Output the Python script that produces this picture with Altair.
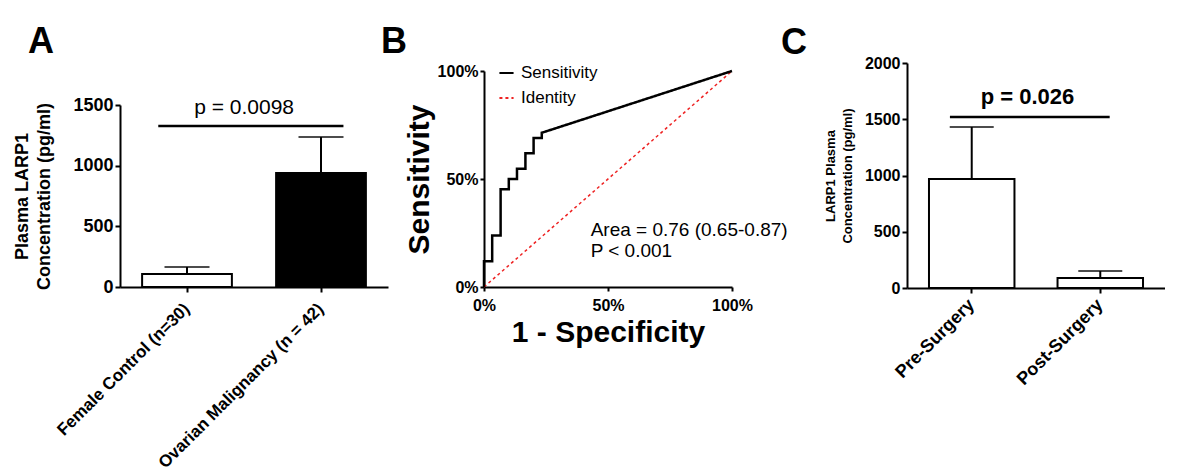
import altair as alt
import pandas as pd

FONT = "Liberation Sans"

# ---------------- Panel A data ----------------
a_groups = ["Female Control (n=30)", "Ovarian Malignancy (n = 42)"]
a_means = [107, 940]
a_upper = [165, 1236]
a_fills = ["white", "black"]
a_ticks = [0, 500, 1000, 1500]
a_bracket = 1327
a_p_label = "p = 0.0098"
a_p_y = 1475

# ---------------- Panel B data ----------------
roc_fpr = [0, 0, 3.3, 3.3, 6.7, 6.7, 10, 10, 13.3, 13.3, 16.7, 16.7, 20, 20, 23.3, 23.3, 100]
roc_tpr = [0, 11.9, 11.9, 23.8, 23.8, 45.2, 45.2, 50, 50, 54.8, 54.8, 61.9, 61.9, 69, 69, 71.4, 100]
identity_fpr = [0, 100]
identity_tpr = [0, 100]
b_ticks = [0, 50, 100]
b_series = ["Sensitivity", "Identity"]
b_colors = ["black", "#ee2222"]
b_notes = ["Area = 0.76 (0.65-0.87)", "P < 0.001"]
b_note_x = [43, 43]
b_note_y = [26.4, 16.7]

# ---------------- Panel C data ----------------
c_groups = ["Pre-Surgery", "Post-Surgery"]
c_means = [969, 89]
c_upper = [1431, 151]
c_fills = ["white", "white"]
c_ticks = [0, 500, 1000, 1500, 2000]
c_bracket = 1520
c_p_label = "p = 0.026"
c_p_y = 1698


def panel_title(letter, dx, offset):
    return alt.TitleParams(letter, anchor="start", frame="group", dx=dx, offset=offset,
                           fontSize=36, font=FONT, fontWeight="bold", color="black")


def bar_panel(groups, means, upper, fills, ticks, ymax, yrange, ytitle, title_size, title_lh,
              title_pad, label_size, xlabel_size, xlabel_pad, p_label, p_y, p_size, p_weight,
              bracket, br_start, br_end, p_dx, pad_in, pad_out, cap, width, height, title):
    df = pd.DataFrame({"group": groups, "mean": means, "upper": upper, "fill": fills})
    br = pd.DataFrame({"start": [groups[0]], "end": [groups[1]], "y": [bracket],
                       "py": [p_y], "label": [p_label]})
    xscale = alt.Scale(domain=groups, paddingInner=pad_in, paddingOuter=pad_out)
    xaxis = alt.Axis(title=None, labelAngle=-45, labelAlign="right", labelBaseline="middle",
                     labelFontSize=xlabel_size, tickSize=5, labelPadding=xlabel_pad,
                     labelLimit=0)
    yaxis = alt.Axis(values=ticks, format="d", title=ytitle, titleFontSize=title_size,
                     titleLineHeight=title_lh, labelFontSize=label_size, tickSize=5,
                     labelPadding=2, titlePadding=title_pad, labelFlush=False)
    if yrange is None:
        yscale = alt.Scale(domain=[0, ymax], nice=False)
    else:
        yscale = alt.Scale(domain=[0, ymax], nice=False, range=yrange)
    bars = alt.Chart(df).mark_bar(stroke="black", strokeWidth=2).encode(
        x=alt.X("group:N", scale=xscale, axis=xaxis),
        y=alt.Y("mean:Q", scale=yscale, axis=yaxis),
        fill=alt.Fill("fill:N", scale=None),
    )
    err = alt.Chart(df).mark_rule(color="black", strokeWidth=2).encode(
        x=alt.X("group:N"), y=alt.Y("mean:Q"), y2=alt.Y2("upper"))
    caps = alt.Chart(df).mark_tick(color="black", size=cap, thickness=2).encode(
        x=alt.X("group:N"), y=alt.Y("upper:Q"))
    brk = alt.Chart(br).mark_rule(color="black", strokeWidth=2.5).encode(
        x=alt.X("start:N", bandPosition=br_start),
        x2=alt.X2("end", bandPosition=br_end),
        y=alt.Y("y:Q"))
    ptxt = alt.Chart(br).mark_text(font=FONT, fontSize=p_size, fontWeight=p_weight,
                                   color="black", align="center", baseline="middle",
                                   dx=p_dx).encode(
        x=alt.X("end:N", bandPosition=0), y=alt.Y("py:Q"), text="label:N")
    return alt.layer(bars, err, caps, brk, ptxt).properties(width=width, height=height, title=title)


chartA = bar_panel(a_groups, a_means, a_upper, a_fills, a_ticks, 1500, [224, 42],
                   ["Plasma LARP1", "Concentration (pg/ml)"], 18, 22, 19, 18, 17, 14,
                   a_p_label, a_p_y, 21, "normal", a_bracket, 0.18, 0.75, -32,
                   0.33, 0.165, 45, 268, 224, panel_title("A", -92, 2))

chartC = bar_panel(c_groups, c_means, c_upper, c_fills, c_ticks, 2000, None,
                   ["LARP1 Plasma", "Concentration (pg/ml)"], 13, 17, 10, 16, 18, 9,
                   c_p_label, c_p_y, 22, "bold", c_bracket, 0.245, 0.61, -30,
                   0.335, 0.171, 44, 258, 225, panel_title("C", -126, -7))

# ---------------- Panel B ----------------
roc_df = pd.DataFrame({"fpr": roc_fpr, "tpr": roc_tpr, "series": "Sensitivity",
                       "order": list(range(len(roc_fpr)))})
id_df = pd.DataFrame({"fpr": identity_fpr, "tpr": identity_tpr, "series": "Identity",
                      "order": [0, 1]})
notes_df = pd.DataFrame({"x": b_note_x, "y": b_note_y, "text": b_notes})

legend = alt.Legend(title=None, orient="none", legendX=378, legendY=1.5, symbolType="stroke",
                    symbolSize=200, symbolStrokeWidth=2, labelFontSize=17, labelFont=FONT,
                    labelFontWeight="normal", labelColor="black", rowPadding=7,
                    labelOffset=6, padding=0)
color = alt.Color("series:N", scale=alt.Scale(domain=b_series, range=b_colors), legend=legend)
dash = alt.StrokeDash("series:N", scale=alt.Scale(domain=b_series, range=[[1, 0], [3, 3]]),
                      legend=legend)
bx = alt.X("fpr:Q", scale=alt.Scale(domain=[0, 100], nice=False),
           axis=alt.Axis(values=b_ticks, labelExpr="datum.value + '%'", title="1 - Specificity",
                         titleFontSize=30, labelFontSize=16, tickSize=4, titlePadding=4,
                         labelPadding=6, labelFlush=False))
by = alt.Y("tpr:Q", scale=alt.Scale(domain=[0, 100], nice=False, range=[224, 8]),
           axis=alt.Axis(values=b_ticks, labelExpr="datum.value + '%'", title="Sensitivity",
                         titleFontSize=30, labelFontSize=16, tickSize=4, titlePadding=3,
                         labelPadding=2, labelFlush=False))
roc = alt.Chart(roc_df).mark_line(strokeWidth=2.5).encode(
    x=bx, y=by, color=color, strokeDash=dash, order="order:Q")
ident = alt.Chart(id_df).mark_line(strokeWidth=1.5).encode(
    x="fpr:Q", y="tpr:Q", color=color, strokeDash=dash, order="order:Q")
notes = alt.Chart(notes_df).mark_text(font=FONT, fontSize=19, color="black", align="left",
                                      baseline="middle").encode(
    x="x:Q", y="y:Q", text="text:N")
chartB = alt.layer(ident, roc, notes).properties(width=248, height=224,
                                                 title=panel_title("B", -103, 2))

chart = alt.hconcat(chartA, chartB, chartC, spacing=-7).properties(
    padding={"left": 5, "top": 16, "right": 0, "bottom": 0}
).configure_view(stroke=None).configure_axis(
    domainColor="black", domainWidth=2, tickColor="black", tickWidth=2,
    labelColor="black", titleColor="black", labelFont=FONT, titleFont=FONT,
    labelFontWeight="bold", titleFontWeight="bold", grid=False
).configure_text(font=FONT)

chart.save("out.html", embed_options={"renderer": "svg", "actions": False})
